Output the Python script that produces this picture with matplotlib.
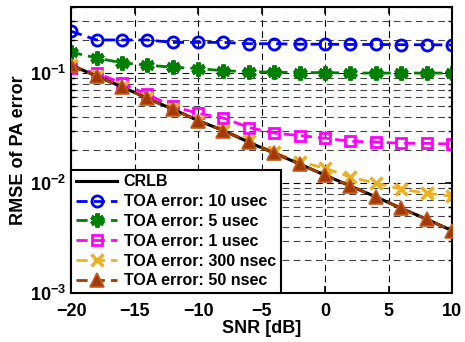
import numpy as np
import matplotlib.pyplot as plt
from matplotlib.ticker import LogLocator, LogFormatterMathtext, NullFormatter

plt.rcParams['font.family'] = ['Liberation Sans', 'DejaVu Sans']
plt.rcParams['font.weight'] = 'bold'
plt.rcParams['mathtext.fontset'] = 'custom'
plt.rcParams['mathtext.rm'] = 'Liberation Sans:bold'
plt.rcParams['mathtext.bf'] = 'Liberation Sans:bold'
plt.rcParams['mathtext.it'] = 'Liberation Sans:bold'

# SNR grid (dB)
snr = [-20, -18, -16, -14, -12, -10, -8, -6, -4, -2, 0, 2, 4, 6, 8, 10]

# values
crlb = [0.118, 0.094, 0.075, 0.059, 0.047, 0.037, 0.030, 0.0235, 0.0187,
        0.0149, 0.0118, 0.0094, 0.0075, 0.0059, 0.0047, 0.0037]
toa_10us = [0.24, 0.20, 0.20, 0.20, 0.19, 0.19, 0.19, 0.185, 0.185,
            0.183, 0.183, 0.182, 0.182, 0.181, 0.181, 0.18]
toa_5us = [0.155, 0.137, 0.124, 0.118, 0.113, 0.11, 0.105, 0.103, 0.102,
           0.101, 0.101, 0.1, 0.1, 0.1, 0.1, 0.1]
toa_1us = [0.112, 0.100, 0.081, 0.064, 0.050, 0.043, 0.039, 0.032, 0.0285,
           0.027, 0.0256, 0.024, 0.0236, 0.023, 0.023, 0.0226]
toa_300ns = [0.118, 0.094, 0.075, 0.059, 0.047, 0.037, 0.030, 0.024, 0.019,
             0.0155, 0.0137, 0.0113, 0.0100, 0.0088, 0.0081, 0.0076]
toa_50ns = [0.118, 0.094, 0.075, 0.059, 0.047, 0.037, 0.030, 0.0235, 0.0187,
            0.0149, 0.0118, 0.0094, 0.0075, 0.0059, 0.0047, 0.0037]

labels = ['CRLB', 'TOA error: 10 usec', 'TOA error: 5 usec',
          'TOA error: 1 usec', 'TOA error: 300 nsec', 'TOA error: 50 nsec']

fig = plt.figure(figsize=(4.65, 3.42), dpi=100)
ax = fig.add_axes([0.153, 0.143, 0.819, 0.837])

dash = (4, 2.2)
ax.plot(snr, crlb, '-', color='k', lw=2.2, label=labels[0], zorder=3)
ax.plot(snr, toa_10us, '--', color='#0000FF', lw=2, dashes=dash, marker='o',
        ms=8, mfc='none', mew=2, label=labels[1])
ax.plot(snr, toa_5us, '--', color='#008000', lw=2, dashes=dash, marker=(6, 2, 0),
        ms=10, mew=3.2, label=labels[2])
ax.plot(snr, toa_1us, '--', color='#FF00FF', lw=2, dashes=dash, marker='s',
        ms=7, mfc='none', mew=2, label=labels[3])
ax.plot(snr, toa_300ns, '--', color='#EDB120', lw=2, dashes=dash, marker='x',
        ms=8, mew=2.5, label=labels[4], zorder=2.5)
ax.plot(snr, toa_50ns, '--', color='#A33A06', lw=2, dashes=dash, marker='^',
        ms=10, mfc='#A33A06', mec='#C05A20', mew=1.2, label=labels[5], zorder=4)

ax.set_yscale('log')
ax.set_xlim(-20, 10)
ax.set_ylim(1e-3, 0.4)
ax.set_xticks([-20, -15, -10, -5, 0, 5, 10])
ax.yaxis.set_major_locator(LogLocator(base=10, numticks=10))
ax.yaxis.set_major_formatter(LogFormatterMathtext())
ax.yaxis.set_minor_locator(LogLocator(base=10, subs=np.arange(2, 10), numticks=10))
ax.yaxis.set_minor_formatter(NullFormatter())

ax.grid(True, which='major', linestyle=(0, (6, 4)), color='k', lw=0.8)
ax.grid(True, which='minor', axis='y', linestyle=(0, (6, 4)), color='#444444', lw=0.8)

ax.tick_params(which='both', direction='in', top=True, right=True, labelsize=13)
ax.tick_params(which='major', length=5, width=1.2)
ax.tick_params(which='minor', length=3, width=1)
ax.tick_params(axis='x', pad=7)
for s in ax.spines.values():
    s.set_linewidth(1.5)

ax.set_xlabel('SNR [dB]', fontsize=13, fontweight='bold', labelpad=0)
ax.set_ylabel('RMSE of PA error', fontsize=13, fontweight='bold', labelpad=2)

leg = ax.legend(loc='lower left', fontsize=11.5, frameon=True, fancybox=False,
                borderaxespad=0, handlelength=2.6, handletextpad=0.4,
                labelspacing=0.3, borderpad=0.3)
leg.get_frame().set_edgecolor('k')
leg.get_frame().set_linewidth(1.5)
leg.get_frame().set_alpha(1)

fig.savefig('out.png', dpi=100)
